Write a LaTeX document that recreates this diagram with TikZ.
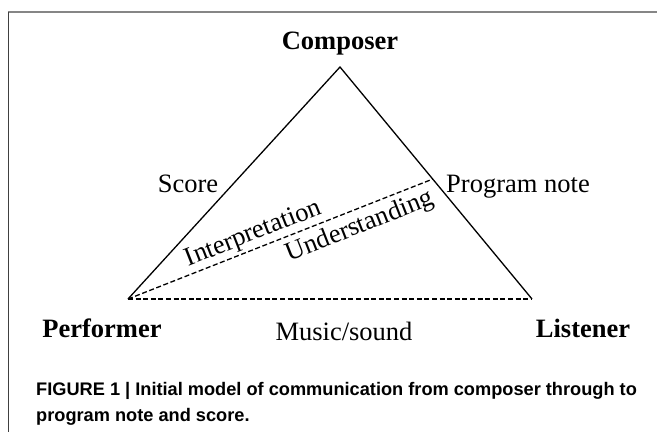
\documentclass[tikz,border=0pt]{standalone}
\usepackage{fontspec}
\setmainfont{Liberation Serif}
\newfontfamily\capfont{Liberation Sans}
\usetikzlibrary{calc}

\begin{document}
\begin{tikzpicture}[x=1pt,y=-1pt,
  lbl/.style={font=\fontsize{26.5}{30}\selectfont, anchor=base, inner sep=0pt},
  role/.style={lbl, font=\fontsize{26.5}{30}\selectfont\bfseries},
  link/.style={line width=1.3pt},
  weak/.style={line width=1.3pt, dash pattern=on 5pt off 2.6pt}]
\useasboundingbox (0,0) rectangle (657,432);
% frame
\draw[gray!95, line width=1.5pt] (8,12) -- (657,12);
\draw[black!75, line width=1pt] (8,12) -- (8,432);
% corners of the triangle
\coordinate (comp) at (340,67);
\coordinate (perf) at (128,299);
\coordinate (list) at (532,299);
\coordinate (pn) at ($(comp)!0.483!(list)$);
\draw[link] (perf) -- (comp) -- (list);
\draw[weak] (perf) -- (list);
\draw[weak] (perf) -- (pn)
  node[pos=0.43, sloped, above, font=\fontsize{26.5}{30}\selectfont, inner sep=2pt] (interp) {Interpretation}
  node[pos=0.74, sloped, below, font=\fontsize{26.5}{30}\selectfont, inner sep=5pt] (under) {Understanding};
\node[role] (composer) at (340,49) {Composer};
\node[role] (performer) at (102,337) {Performer};
\node[role] (listener) at (583,337) {Listener};
\node[lbl] (score) at (188,192) {Score};
\node[lbl] (prognote) at (518,192) {Program note};
\node[lbl] (music) at (344,340) {Music/sound};
\node[anchor=base west, inner sep=0pt, font=\capfont\fontsize{18.2}{26}\selectfont\bfseries, align=left] (caption) at (36,421)
  {FIGURE 1 | Initial model of communication from composer through to\\program note and score.};
\end{tikzpicture}
\end{document}
